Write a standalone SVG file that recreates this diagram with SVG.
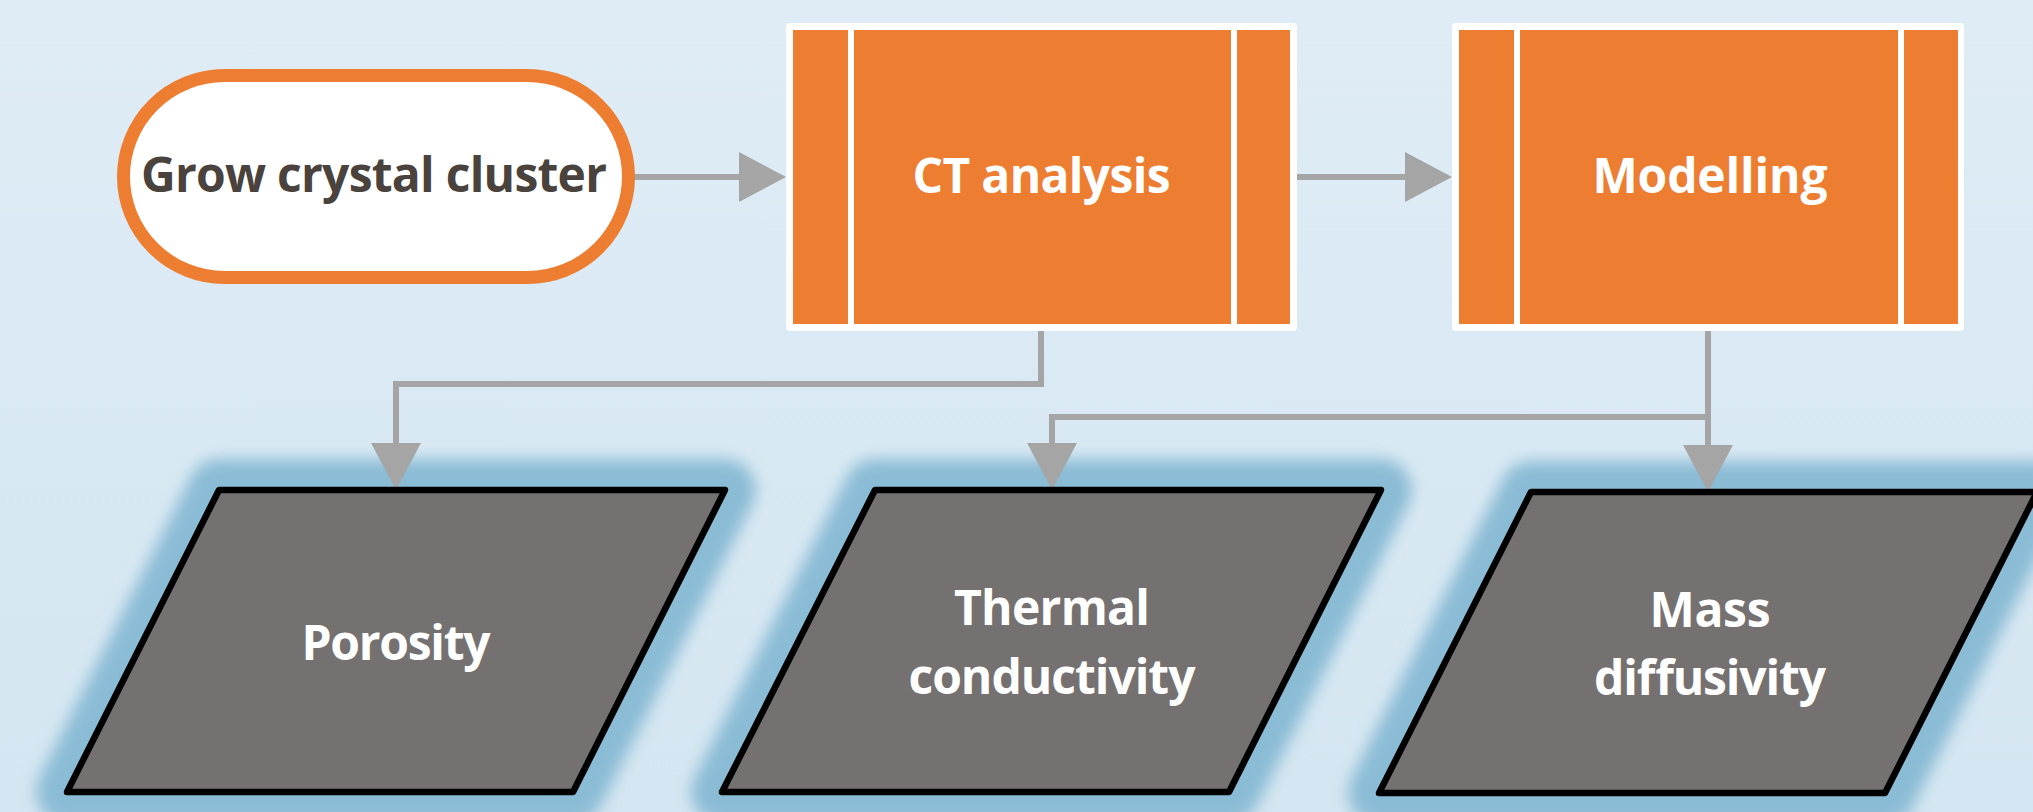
<svg xmlns="http://www.w3.org/2000/svg" width="2033" height="812" viewBox="0 0 2033 812">
<style>
.bg{fill:url(#bgGrad)}
.term{fill:#ffffff;stroke:#ed7d31;stroke-width:13}
.frame{fill:#ffffff}
.proc{fill:#ed7d31}
.para{fill:#767171;stroke:#000000;stroke-width:6.5;stroke-linejoin:round}
.glow{fill:#8bbcd5;stroke:#8bbcd5;stroke-width:62;stroke-linejoin:round;filter:url(#blur)}
.conn{fill:none;stroke:#a5a5a5;stroke-width:6;stroke-linecap:round;stroke-linejoin:miter}
.lbl{font-family:"Open Sans","Liberation Sans",sans-serif;font-weight:700;font-size:48px;text-anchor:middle}
.dark{fill:#4a423c}
.white{fill:#ffffff}
</style>
<defs>
<linearGradient id="bgGrad" x1="0" y1="0" x2="0" y2="1">
<stop offset="0" stop-color="#dfecf6"/>
<stop offset="1" stop-color="#d4e6f1"/>
</linearGradient>
<filter id="blur" x="-30%" y="-40%" width="160%" height="180%">
<feGaussianBlur stdDeviation="7.5"/>
</filter>
<marker id="arrow" viewBox="0 0 47 50" markerWidth="47" markerHeight="50" markerUnits="userSpaceOnUse" refX="0" refY="25" orient="auto">
<path d="M0,0 L47,25 L0,50 Z" fill="#a5a5a5"/>
</marker>
</defs>
<rect class="bg" x="0" y="0" width="2033" height="812"/>

<g id="glows">
<polygon class="glow" points="219,490 725,490 573,792 67,792"/>
<polygon class="glow" points="875,490 1381,490 1229,792 722,792"/>
<polygon class="glow" points="1531,492 2037,492 1885,793 1379,793"/>
</g>

<g id="connectors">
<path class="conn" d="M628,177 H739" marker-end="url(#arrow)"/>
<path class="conn" d="M1297,177 H1405" marker-end="url(#arrow)"/>
<path class="conn" d="M1041,331 V384 H396 V443" marker-end="url(#arrow)"/>
<path class="conn" d="M1708,331 V445" marker-end="url(#arrow)"/>
<path class="conn" d="M1708,417 H1052 V443" marker-end="url(#arrow)"/>
</g>

<g id="grow-crystal-cluster">
<rect class="term" x="123.5" y="75.5" width="505" height="202" rx="101" ry="101"/>
<text class="lbl dark" x="374" y="192" textLength="466">Grow crystal cluster</text>
</g>

<g id="ct-analysis">
<rect class="frame" x="786" y="23" width="511" height="308" rx="4"/>
<rect class="proc" x="793" y="30" width="55" height="294"/>
<rect class="proc" x="854" y="30" width="377" height="294"/>
<rect class="proc" x="1237" y="30" width="53" height="294"/>
<text class="lbl white" x="1041.5" y="193" textLength="258">CT analysis</text>
</g>

<g id="modelling">
<rect class="frame" x="1452" y="23" width="512" height="308" rx="4"/>
<rect class="proc" x="1459" y="30" width="55" height="294"/>
<rect class="proc" x="1520" y="30" width="378" height="294"/>
<rect class="proc" x="1904" y="30" width="54" height="294"/>
<text class="lbl white" x="1710" y="193" textLength="235">Modelling</text>
</g>

<g id="porosity">
<polygon class="para" points="219,490 725,490 573,792 67,792"/>
<text class="lbl white" x="396" y="660" textLength="189">Porosity</text>
</g>

<g id="thermal-conductivity">
<polygon class="para" points="875,490 1381,490 1229,792 722,792"/>
<text class="lbl white" x="1052" y="625" textLength="196">Thermal</text>
<text class="lbl white" x="1052" y="694" textLength="287">conductivity</text>
</g>

<g id="mass-diffusivity">
<polygon class="para" points="1531,492 2037,492 1885,793 1379,793"/>
<text class="lbl white" x="1710" y="627" textLength="121">Mass</text>
<text class="lbl white" x="1710" y="695" textLength="232">diffusivity</text>
</g>
</svg>
